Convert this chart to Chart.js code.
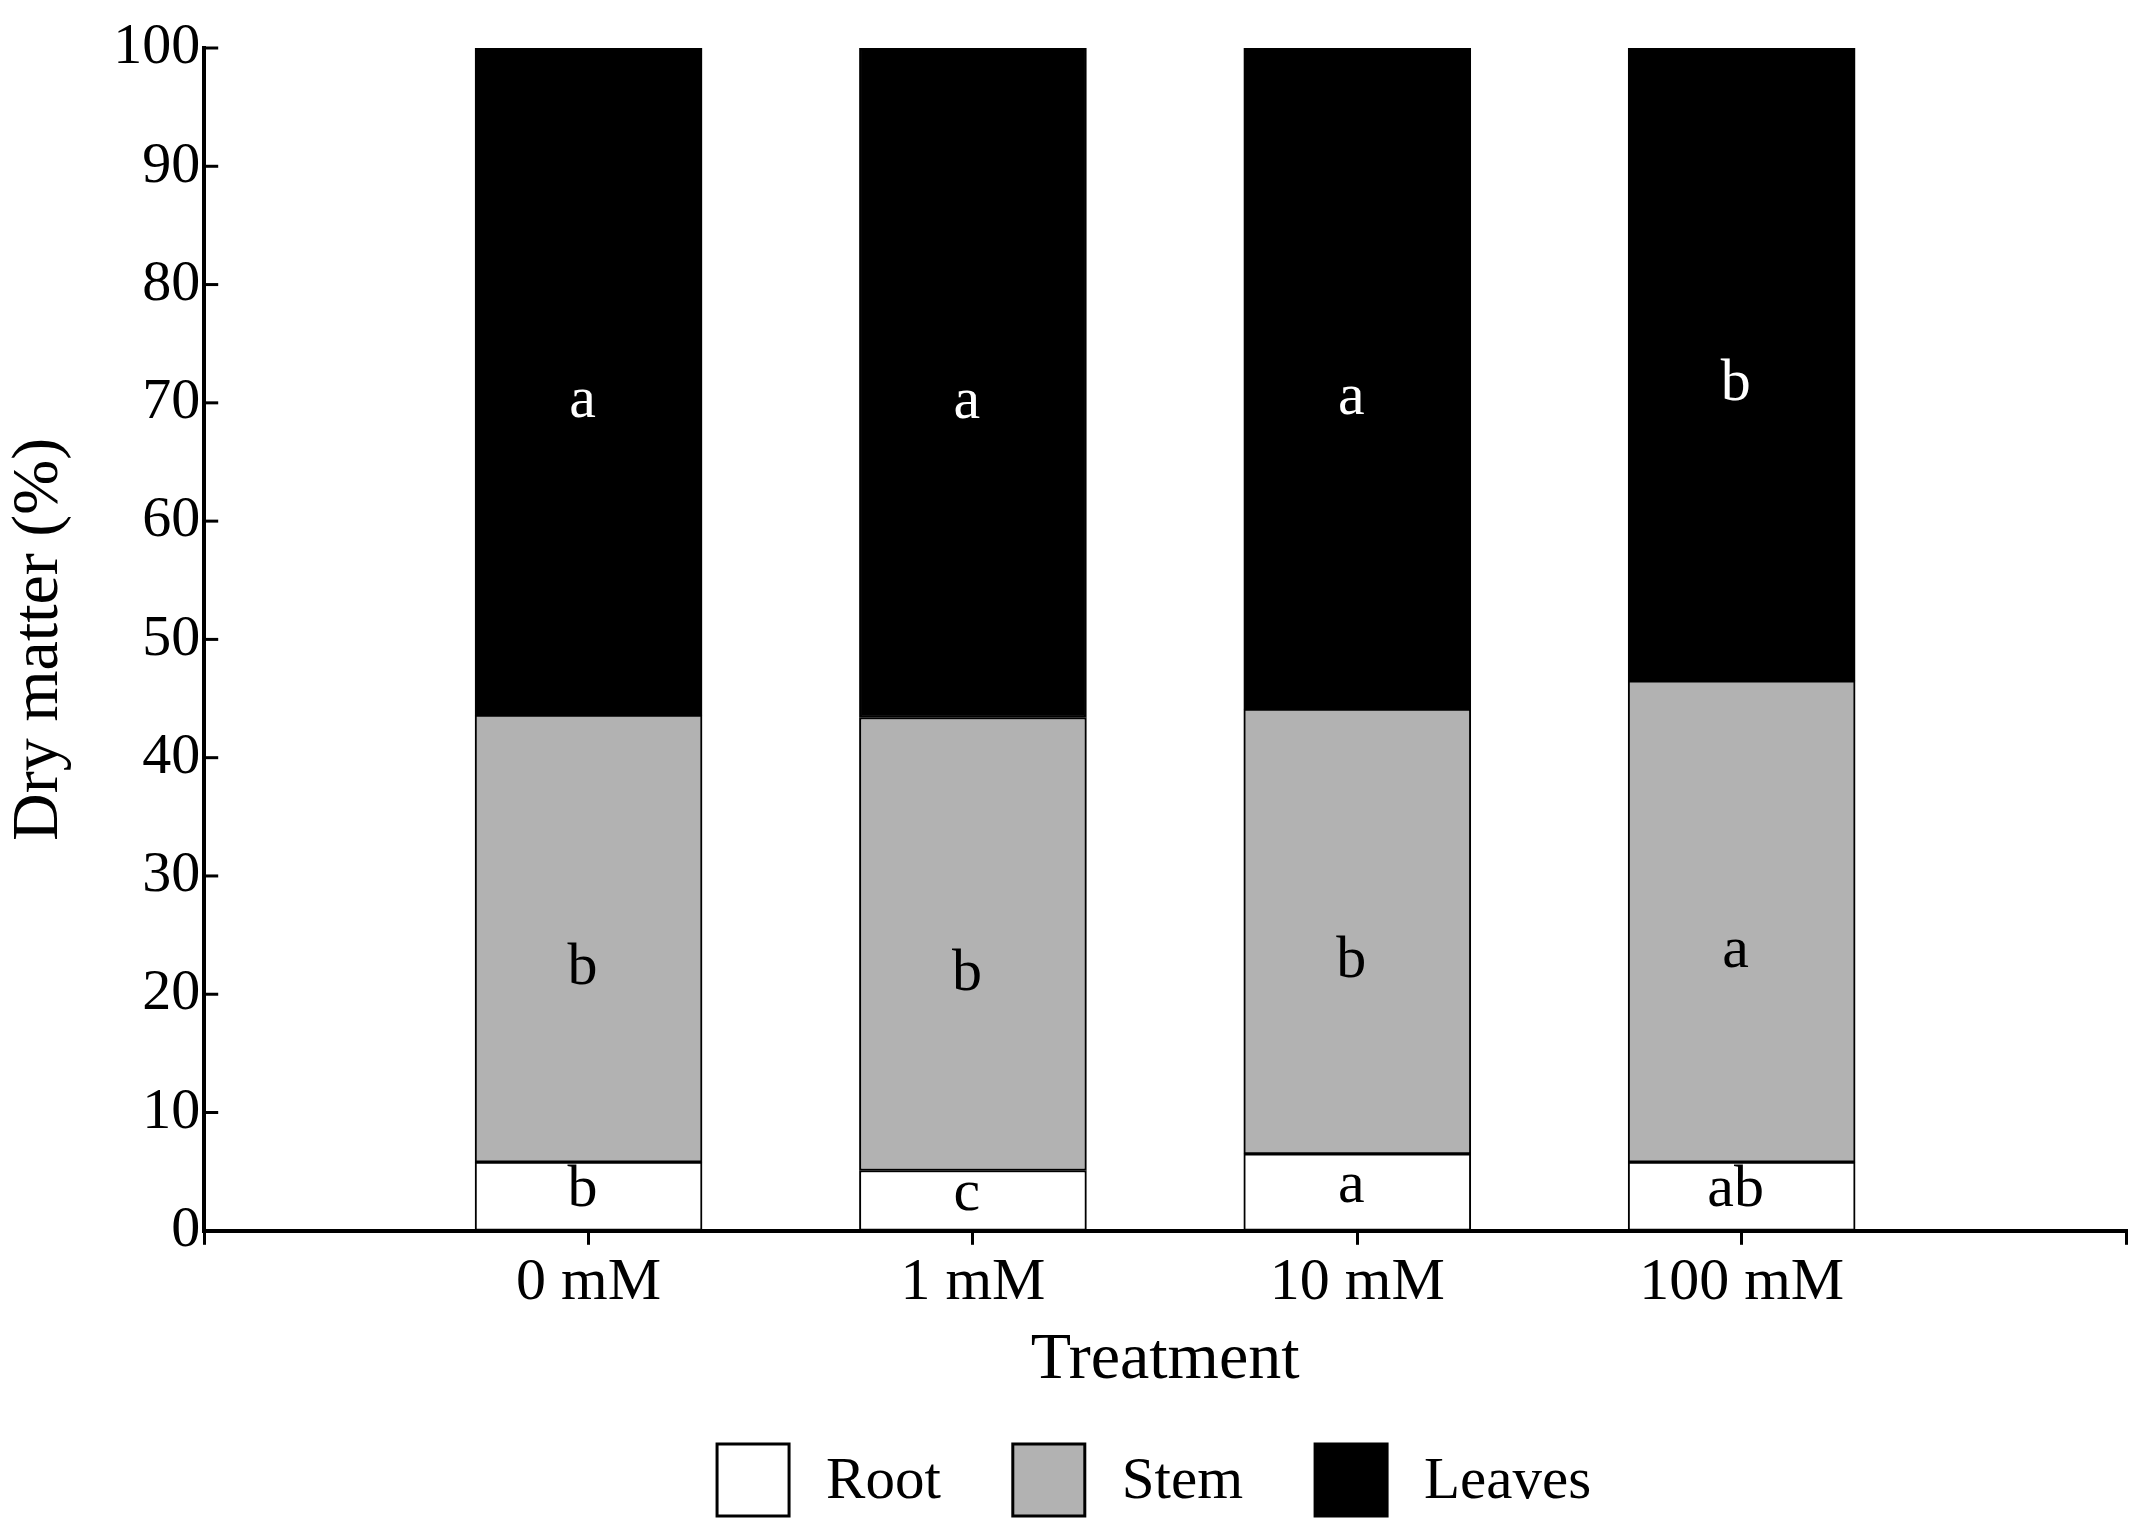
<!DOCTYPE html>
<html>
<head>
<meta charset="utf-8">
<script src="https://cdn.jsdelivr.net/npm/chart.js@4.4.1/dist/chart.umd.min.js"></script>
<style>
  html, body { margin: 0; padding: 0; background: #fff; }
  #wrap { width: 2138px; height: 1530px; position: relative; }
</style>
</head>
<body>
<div id="wrap"><canvas id="dm-chart"></canvas></div>
<script>
Chart.defaults.font.family = "'Liberation Serif', 'Times New Roman', serif";
Chart.defaults.color = '#000';

// data (percent of total dry matter)
const categories = ['0 mM', '1 mM', '10 mM', '100 mM'];
const rootValues = [5.8, 5.1, 6.5, 5.8];
const stemValues = [37.8, 38.3, 37.6, 40.7];
const leavesValues = [56.4, 56.6, 55.9, 53.5];
const rootLetters = ['b', 'c', 'a', 'ab'];
const stemLetters = ['b', 'b', 'b', 'a'];
const leavesLetters = ['a', 'a', 'a', 'b'];
const yMax = 100;
const yStep = 10;

// empty slots at both ends so the treatments sit at 1..4 of a 0..5 axis
const pad = arr => [null, ...arr, null];
const labels = ['', ...categories, ''];

// letters inside each segment + inward y ticks
const letterPlugin = {
  id: 'letters',
  afterDatasetsDraw(chart) {
    const ctx = chart.ctx;
    ctx.save();
    ctx.font = "60px 'Liberation Serif', serif";
    ctx.textAlign = 'center';
    ctx.textBaseline = 'middle';
    chart.data.datasets.forEach((ds, i) => {
      const meta = chart.getDatasetMeta(i);
      meta.data.forEach((bar, j) => {
        const txt = ds.letters[j];
        if (!txt) return;
        ctx.fillStyle = ds.letterColor;
        ctx.fillText(txt, bar.x - 6, (bar.y + bar.base) / 2 + ds.letterShift);
      });
    });
    // inward tick marks on the y axis
    const y = chart.scales.y;
    const left = chart.chartArea.left;
    ctx.strokeStyle = '#000';
    ctx.lineWidth = 3;
    y.ticks.forEach(t => {
      const py = y.getPixelForValue(t.value);
      ctx.beginPath();
      ctx.moveTo(left, py);
      ctx.lineTo(left + 14, py);
      ctx.stroke();
    });
    ctx.restore();
  },
};

// legend drawn below the axis title
const legendPlugin = {
  id: 'bottomLegend',
  afterDraw(chart) {
    const ctx = chart.ctx;
    const box = 72, gapText = 37, gapItem = 72;
    ctx.save();
    ctx.font = "59px 'Liberation Serif', serif";
    ctx.textBaseline = 'middle';
    const items = chart.data.datasets.map(ds => ({
      text: ds.label, fill: ds.backgroundColor, w: ctx.measureText(ds.label).width,
    }));
    let total = 0;
    items.forEach((it, i) => { total += box + gapText + it.w + (i < items.length - 1 ? gapItem : 0); });
    const ca = chart.chartArea;
    let x = (ca.left + ca.right) / 2 - total / 2 - 11;
    const cy = chart.scales.x.bottom + 80;
    items.forEach(it => {
      ctx.fillStyle = it.fill;
      ctx.fillRect(x, cy - box / 2, box, box);
      ctx.strokeStyle = '#000';
      ctx.lineWidth = 3;
      ctx.strokeRect(x, cy - box / 2, box, box);
      ctx.fillStyle = '#000';
      ctx.fillText(it.text, x + box + gapText, cy + 2);
      x += box + gapText + it.w + gapItem;
    });
    ctx.restore();
  },
};

const data = {
  labels: labels,
  datasets: [
    { label: 'Root', data: pad(rootValues), backgroundColor: '#ffffff', letters: pad(rootLetters), letterColor: '#000', letterShift: -6 },
    { label: 'Stem', data: pad(stemValues), backgroundColor: '#b2b2b2', letters: pad(stemLetters), letterColor: '#000', letterShift: 30 },
    { label: 'Leaves', data: pad(leavesValues), backgroundColor: '#000000', letters: pad(leavesLetters), letterColor: '#fff', letterShift: 20 },
  ],
};

const config = {
  type: 'bar',
  data: data,
  options: {
    responsive: true,
    maintainAspectRatio: false,
    devicePixelRatio: 1,
    animation: false,
    datasets: {
      bar: { barThickness: 227, borderColor: '#000', borderWidth: 2, borderSkipped: false },
    },
    layout: { padding: { top: 48, right: 12, bottom: 130, left: 0 } },
    plugins: { legend: { display: false }, tooltip: { enabled: false } },
    scales: {
      x: {
        stacked: true,
        offset: false,
        grid: { offset: false, drawOnChartArea: false, drawTicks: true, tickLength: 14, lineWidth: 3, color: '#000' },
        border: { color: '#000', width: 4 },
        ticks: { font: { size: 60 }, padding: 2, autoSkip: false, maxRotation: 0 },
        title: { display: true, text: 'Treatment', font: { size: 66 }, padding: { top: 0, bottom: 0 } },
      },
      y: {
        stacked: true,
        min: 0,
        max: yMax,
        grid: { drawOnChartArea: false, drawTicks: false },
        border: { color: '#000', width: 4 },
        ticks: { stepSize: yStep, font: { size: 58 }, padding: 4 },
        title: { display: true, text: 'Dry matter (%)', font: { size: 66 }, padding: { top: 0, bottom: 30 } },
      },
    },
  },
  plugins: [letterPlugin, legendPlugin],
};

const myChart = new Chart(document.getElementById('dm-chart'), config);
</script>
</body>
</html>
